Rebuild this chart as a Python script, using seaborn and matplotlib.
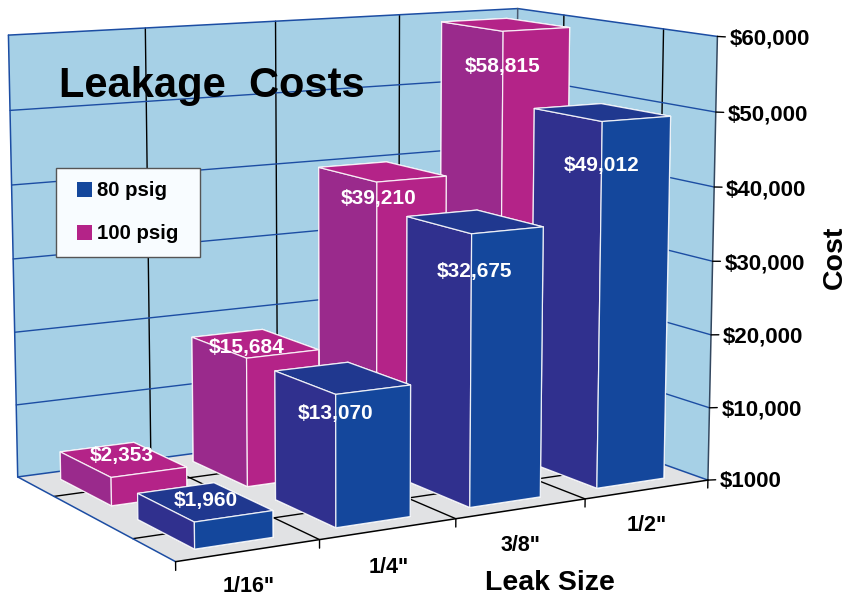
import numpy as np
import matplotlib
matplotlib.use('Agg')
import matplotlib.pyplot as plt
from matplotlib.patches import Patch, Rectangle
from matplotlib.legend_handler import HandlerPatch
from mpl_toolkits.mplot3d import Axes3D, proj3d
from mpl_toolkits.mplot3d.art3d import Poly3DCollection
import seaborn as sns

sizes = ['1/16"', '1/4"', '3/8"', '1/2"']
# printed values
cost_80 = [1960, 13070, 32675, 49012]
cost_100 = [2353, 15684, 39210, 58815]
# bar tops as read against the cost axis, they do not follow the printed values
height_80 = [3450, 17300, 36100, 49300]
height_100 = [3800, 17550, 39700, 59100]
series_names = ['80 psig', '100 psig']
z_ticks = [0, 10000, 20000, 30000, 40000, 50000, 60000]
z_labels = ['$1000', '$10,000', '$20,000', '$30,000', '$40,000', '$50,000', '$60,000']

W, H, S = 848, 598, 800
bar_w = 0.548
bar_d = 0.335
bar_gap = 0.226
rows = [0.08, 0.58]
depth_lines = [0.25, 0.75]
z_top = z_ticks[-1]
# height at which the white values sit
label_z_80 = [5950, 14800, 31100, 43500]
label_z_100 = [6550, 19000, 37450, 54300]
nudge_80 = [0.08, 0.0, 0.025, 0.0]
nudge_100 = [0.08, 0.0, 0.01, 0.0]
size_label_z = [-4600, -5000, -5000, -5000]

sns.set_theme(style='white')
plt.rcParams['font.family'] = ['Liberation Sans', 'DejaVu Sans']
plt.rcParams['font.weight'] = 'bold'

blue = sns.color_palette(['#14479c', '#30308e', '#20388f'])
pink = sns.color_palette(['#b42388', '#9a2a8c', '#b42388'])
wall = '#a6d0e6'
floor = '#e1e2e4'
line_blue = '#1c4da3'

fig = plt.figure(figsize=(W/100, H/100), dpi=100)
ax = fig.add_axes([-48.7/W, -72.92/H, S/W, S/H], projection='3d', computed_zorder=False)
ax.view_init(9.9733, -119.9755, -0.007)
ax.set_proj_type('persp', focal_length=0.671)
ax.set_box_aspect((1.334, 0.802, 1), zoom=1.009)
# the walls, grid and labels are drawn below, the built in axes stay empty
for axis in (ax.xaxis, ax.yaxis, ax.zaxis):
    axis.set_ticks([])
    for t in (axis.label, axis.offsetText):
        t.set_text('')
        t.set_position((0, 0))
        t.set_visible(False)
ax.set_xlim(0, 4, view_margin=0)
ax.set_ylim(0, 1, view_margin=0)
ax.set_zlim(0, z_top, view_margin=0)
ax.set_axis_off()


def label3d(x, y, z, s, **kw):
    # project once and keep a plain 2d text so it always stays on top
    X, Y, _ = proj3d.proj_transform(x, y, z, ax.get_proj())
    return ax.text2D(X, Y, s, transform=ax.transData, **kw)


# walls and floor
ax.add_collection3d(Poly3DCollection([[(0, 1, 0), (4, 1, 0), (4, 1, z_top), (0, 1, z_top)],
                                      [(4, 1, 0), (4, 0, 0), (4, 0, z_top), (4, 1, z_top)]],
                                     facecolors=wall, edgecolors='none', zorder=0))
ax.add_collection3d(Poly3DCollection([[(0, 0, 0), (4, 0, 0), (4, 1, 0), (0, 1, 0)]],
                                     facecolors=floor, edgecolors='none', zorder=0))

# grid lines on the walls and floor
for i in range(1, 4):
    ax.plot([i, i, i], [0, 1, 1], [0, 0, z_top], color='black', lw=1, zorder=1)
for d in depth_lines:
    ax.plot([0, 4, 4], [d, d, d], [0, 0, z_top], color='black', lw=1, zorder=1)
for z in z_ticks[1:-1]:
    ax.plot([0, 4, 4], [1, 1, 0], [z, z, z], color=line_blue, lw=1, zorder=1)

# frame of the box
for xs, ys, zs, col in [([0, 4], [1, 1], [z_top, z_top], line_blue),
                        ([4, 4], [1, 0], [z_top, z_top], line_blue),
                        ([0, 0], [1, 1], [0, z_top], line_blue),
                        ([0, 4], [1, 1], [0, 0], line_blue),
                        ([4, 4], [1, 0], [0, 0], line_blue),
                        ([0, 0], [1, 0], [0, 0], line_blue),
                        ([4, 4], [1, 1], [0, z_top], '#4a5a70'),
                        ([4, 4], [0, 0], [0, z_top], '#33475f'),
                        ([0, 4], [0, 0], [0, 0], 'black')]:
    ax.plot(xs, ys, zs, color=col, lw=1.1, zorder=2)

# ticks and tick labels
for i in range(5):
    ax.plot([i, i], [0, 0], [0, -1100], color='black', lw=1, zorder=2)
for z, lab in zip(z_ticks, z_labels):
    ax.plot([4, 4.065], [0, 0], [z, z-120], color='black', lw=1, zorder=2)
    label3d(4.1, 0, z-500, lab, fontsize=16, ha='left', va='center', color='black', zorder=50)
for i, lab in enumerate(sizes):
    label3d(i+0.5, 0, size_label_z[i], lab, fontsize=15.5, ha='center', va='center', color='black', zorder=50)

# bars, far ones first so the near ones cover them
order = 10
for row, vals, cols in [(1, height_100, pink), (0, height_80, blue)]:
    for i in range(3, -1, -1):
        side, left, top = cols
        faces = [side, top, side, side, left, left]
        ax.bar3d(i + bar_gap, rows[row], 0, bar_w, bar_d, vals[i], color=faces, shade=False,
                 edgecolor=(1, 1, 1, 0.85), linewidth=0.9, zorder=order)
        order += 1

for row, vals, zs, nudge in [(1, cost_100, label_z_100, nudge_100), (0, cost_80, label_z_80, nudge_80)]:
    for i in range(4):
        label3d(i + bar_gap + nudge[i], rows[row], zs[i], '${:,}'.format(vals[i]),
                fontsize=15, color='white', ha='center', va='center', zorder=60)

fig.text(212/W, 1-97/H, 'Leakage  Costs', fontsize=30, ha='center', va='baseline', color='black')
fig.text(550/W, 1-583/H, 'Leak Size', fontsize=20.5, ha='center', va='center', color='black')
fig.text(835/W, 1-257/H, 'Cost', fontsize=20.5, rotation=90, ha='center', va='center', color='black')

# legend box
fig.add_artist(Rectangle((56/W, 1-257/H), 144/W, 89/H, transform=fig.transFigure,
                         facecolor='#f8fcff', edgecolor='#555555', lw=1, zorder=5))

def square(legend, orig_handle, xdescent, ydescent, width, height, fontsize):
    return Rectangle((0, -1), 11, 11)

handles = [Patch(facecolor=blue[0], edgecolor='none', label=series_names[0]),
           Patch(facecolor=pink[0], edgecolor='none', label=series_names[1])]
leg = fig.legend(handles=handles, loc='upper left', bbox_to_anchor=(77/W, 1-181/H),
                 borderaxespad=0, borderpad=0, frameon=False, fontsize=14.7, handlelength=0.75,
                 handletextpad=0.22, labelspacing=1.16,
                 handler_map={Patch: HandlerPatch(patch_func=square)})
leg.set_zorder(6)
for t in leg.get_texts():
    t.set_color('black')

fig.savefig('out.png', dpi=100)
